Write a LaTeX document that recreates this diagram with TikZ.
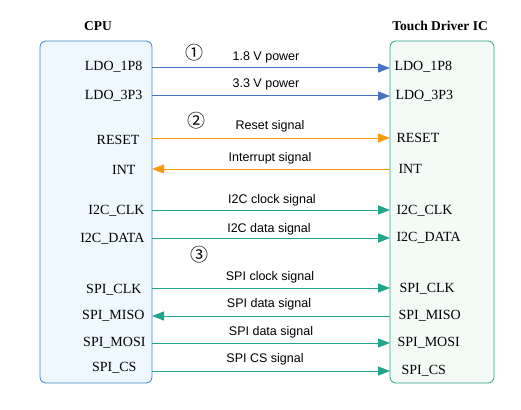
\documentclass[tikz,border=0pt]{standalone}
\usepackage{fontspec}
\setmainfont{Liberation Serif}
\newfontfamily\sigfont{Liberation Sans}
\newfontfamily\numfont{Noto Sans CJK SC}
\usetikzlibrary{arrows.meta}
\definecolor{pwrblue}{HTML}{4472C4}
\definecolor{rstorange}{HTML}{FF9A0A}
\definecolor{busteal}{HTML}{1DA68B}
\definecolor{cpuedge}{HTML}{3C85C9}
\definecolor{cpufill}{HTML}{F0F8FF}
\definecolor{icedge}{HTML}{2AA58A}
\definecolor{icfill}{HTML}{F4FBF7}
\tikzset{
  chip/.style = {line width=0.8pt, rounded corners=6pt},
  title/.style = {font=\bfseries\fontsize{13.5}{14}\selectfont},
  pinL/.style = {anchor=east, font=\fontsize{14}{14}\selectfont},
  pinR/.style = {anchor=west, font=\fontsize{14}{14}\selectfont},
  sig/.style = {font=\sigfont\fontsize{12.5}{12.5}\selectfont},
  stepnum/.style = {font=\numfont\fontsize{18}{18}\selectfont},
  wire/.style = {line width=1pt, -{Triangle[length=12pt,width=9pt]}},
}
\begin{document}
\begin{tikzpicture}[x=1pt, y=-1pt]
  \useasboundingbox (0,0) rectangle (521,409);
  % the two chips
  \draw[chip, draw=cpuedge, fill=cpufill] (40,41) rectangle (152,383);
  \draw[chip, draw=icedge, fill=icfill] (390,41) rectangle (494,383);
  \node[title] (cpu) at (98,26)  {CPU};
  \node[title] (tic) at (440,26) {Touch Driver IC};

  % CPU pins
  \node[pinL] (cldo1) at (146,67)  {LDO\_1P8};
  \node[pinL] (cldo3) at (146,96)  {LDO\_3P3};
  \node[pinL] (crst)  at (143,140) {RESET};
  \node[pinL] (cint)  at (139,170) {INT};
  \node[pinL] (cclk)  at (148,211) {I2C\_CLK};
  \node[pinL] (cdat)  at (148,239) {I2C\_DATA};
  \node[pinL] (csclk) at (145,290) {SPI\_CLK};
  \node[pinL] (cmiso) at (148,316) {SPI\_MISO};
  \node[pinL] (cmosi) at (149,343) {SPI\_MOSI};
  \node[pinL] (ccs)   at (140,368) {SPI\_CS};

  % touch IC pins
  \node[pinR] (tldo1) at (391,67)  {LDO\_1P8};
  \node[pinR] (tldo3) at (392,96)  {LDO\_3P3};
  \node[pinR] (trst)  at (393,138) {RESET};
  \node[pinR] (tint)  at (395,169) {INT};
  \node[pinR] (tclk)  at (393,211) {I2C\_CLK};
  \node[pinR] (tdat)  at (393,238) {I2C\_DATA};
  \node[pinR] (tsclk) at (396,289) {SPI\_CLK};
  \node[pinR] (tmiso) at (395,316) {SPI\_MISO};
  \node[pinR] (tmosi) at (394,343) {SPI\_MOSI};
  \node[pinR] (tcs)   at (398,371) {SPI\_CS};

  % wire ends on the chip edges
  \foreach \n/\y in {ldo1/68, ldo3/96, rst/138, int/169, clk/210, dat/238,
                     sclk/288, miso/316, mosi/343, cs/371} {
    \coordinate (a\n) at (152,\y);
    \coordinate (b\n) at (390,\y);
  }

  \draw[wire, pwrblue] (aldo1) -- (bldo1);
  \draw[wire, pwrblue] (aldo3) -- (bldo3);
  \draw[wire, rstorange] (arst) -- (brst);
  \draw[wire, rstorange] (bint) -- (aint);
  \draw[wire, busteal] (aclk) -- (bclk);
  \draw[wire, busteal] (adat) -- (bdat);
  \draw[wire, busteal] (asclk) -- (bsclk);
  \draw[wire, busteal] (bmiso) -- (amiso);
  \draw[wire, busteal] (amosi) -- (bmosi);
  \draw[wire, busteal] (acs) -- (bcs);

  % signal names
  \node[sig] (lpw1) at (266,57)  {1.8 V power};
  \node[sig] (lpw3) at (266,84)  {3.3 V power};
  \node[sig] (lrst) at (270,126) {Reset signal};
  \node[sig] (lint) at (270,158) {Interrupt signal};
  \node[sig] (lclk) at (272,200) {I2C clock signal};
  \node[sig] (ldat) at (269,229) {I2C data signal};
  \node[sig] (lsck) at (270,277) {SPI clock signal};
  \node[sig] (lmis) at (269,304) {SPI data signal};
  \node[sig] (lmos) at (271,332) {SPI data signal};
  \node[sig] (lcs)  at (265,359) {SPI CS signal};

  % group numbers
  \node[stepnum] (n1) at (194,53)  {①};
  \node[stepnum] (n2) at (196,121) {②};
  \node[stepnum] (n3) at (199,255) {③};
\end{tikzpicture}
\end{document}
